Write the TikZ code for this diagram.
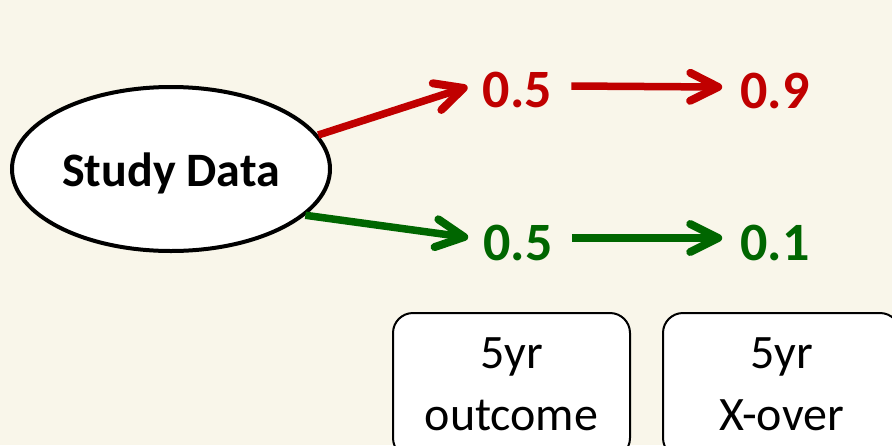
\documentclass[tikz,border=0pt]{standalone}
\usepackage{fontspec}
\setmainfont{Carlito}
\usetikzlibrary{shapes.geometric,decorations.markings}
\definecolor{bg}{RGB}{249,246,234}
\definecolor{rd}{RGB}{192,0,0}
\definecolor{gn}{RGB}{0,102,0}

\begin{document}
\begin{tikzpicture}[x=1pt,y=-1pt,
  num/.style={font=\fontsize{54}{60}\selectfont\bfseries, inner sep=0pt},
  flow/.style={line width=7.5pt, postaction={decorate},
    decoration={markings, mark=at position 1 with {
      \draw[line width=8pt, line cap=round, line join=round]
        (-28pt,-14pt) -- (0pt,0pt) -- (-28pt,14pt);}}},
  infobox/.style={draw, line width=2pt, rounded corners=20pt, fill=white,
    minimum width=237pt, minimum height=145pt, align=center,
    font=\fontsize{48}{62}\selectfont, text height=92pt, text depth=3pt},
  source/.style={ellipse, draw, line width=4pt, fill=white,
    minimum width=318pt, minimum height=164pt, inner sep=0pt,
    font=\fontsize{48}{58}\selectfont\bfseries, text height=34pt, text depth=0pt}]
  % canvas
  \fill[bg] (0,0) rectangle (892,445);
  \clip (0,0) rectangle (892,445);

  % data source
  \node[source] (sd) at (171,169) {Study Data};

  % probabilities
  \node[num, text=rd] (r1) at (517.5,90) {0.5};
  \node[num, text=rd] (r2) at (775,91) {0.9};
  \node[num, text=gn] (g1) at (518,243) {0.5};
  \node[num, text=gn] (g2) at (775,243) {0.1};

  % branches
  \draw[flow, rd] (sd.13) -- ([xshift=-19pt,yshift=2pt]r1.west);
  \draw[flow, gn] (sd.-19) -- ([xshift=-19pt,yshift=6pt]g1.west);
  \draw[flow, rd] ([xshift=19pt,yshift=4pt]r1.east) -- ([xshift=-22pt,yshift=4pt]r2.west);
  \draw[flow, gn] ([xshift=19pt,yshift=5pt]g1.east) -- ([xshift=-22pt,yshift=5pt]g2.west);

  % column headers
  \node[infobox] (h1) at (511.5,385.5) {5yr\\outcome};
  \node[infobox] (h2) at (781.5,385.5) {5yr\\X-over};
\end{tikzpicture}
\end{document}
